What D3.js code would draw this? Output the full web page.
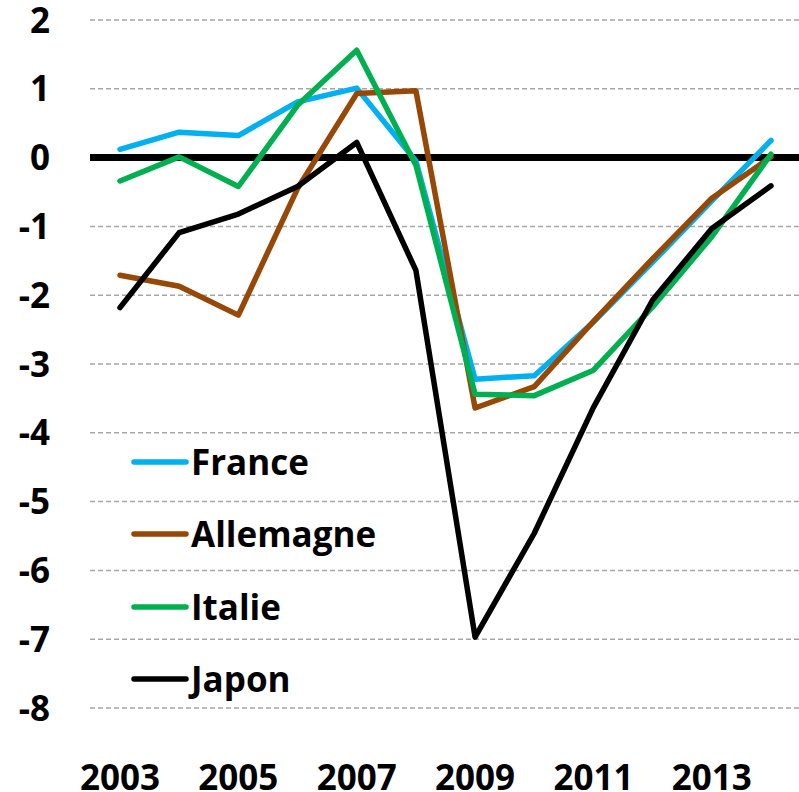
<!DOCTYPE html>
<html>
<head>
<meta charset="utf-8">
<script src="https://cdn.jsdelivr.net/npm/d3@7"></script>
<style>
  body { margin: 0; background: #fff; }
  svg text { font-family: "Open Sans", sans-serif; font-weight: bold; fill: #000; }
</style>
</head>
<body>
<svg id="chart" width="799" height="792"></svg>
<script>
// Years on the x axis
const years = [2003, 2004, 2005, 2006, 2007, 2008, 2009, 2010, 2011, 2012, 2013, 2014];

// Series values
const france    = [0.12, 0.37, 0.32, 0.81, 1.01, -0.05, -3.22, -3.17, -2.39, -1.52, -0.63, 0.25];
const allemagne = [-1.71, -1.87, -2.29, -0.45, 0.93, 0.97, -3.64, -3.33, -2.38, -1.47, -0.59, 0.01];
const italie    = [-0.34, 0.01, -0.42, 0.76, 1.56, -0.11, -3.44, -3.46, -3.09, -2.17, -1.15, 0.05];
const japon     = [-2.18, -1.09, -0.82, -0.42, 0.22, -1.64, -6.97, -5.46, -3.63, -2.07, -1.03, -0.41];

const seriesNames = ['France', 'Allemagne', 'Italie', 'Japon'];
const yTicks = [2, 1, 0, -1, -2, -3, -4, -5, -6, -7, -8];
const xTickYears = [2003, 2005, 2007, 2009, 2011, 2013];

const colors = ['#00B0F0', '#974706', '#00B050', '#000000'];
const allSeries = [france, allemagne, italie, japon];

const svg = d3.select('#chart');

const x = d3.scaleLinear().domain([2003, 2014]).range([120, 771]);
const y = d3.scaleLinear().domain([-8, 2]).range([708, 20]);

// dashed gridlines
svg.append('g')
  .selectAll('line')
  .data(yTicks.filter(d => d !== 0))
  .enter()
  .append('line')
  .attr('x1', 90)
  .attr('x2', 799)
  .attr('y1', d => y(d))
  .attr('y2', d => y(d))
  .attr('stroke', '#A6A6A6')
  .attr('stroke-width', 1.5)
  .attr('stroke-dasharray', '5,3');

// zero line
svg.append('line')
  .attr('x1', 90)
  .attr('x2', 799)
  .attr('y1', y(0))
  .attr('y2', y(0))
  .attr('stroke', '#000')
  .attr('stroke-width', 7);

// y tick labels
svg.append('g')
  .selectAll('text')
  .data(yTicks)
  .enter()
  .append('text')
  .attr('x', 50)
  .attr('y', d => y(d))
  .attr('dy', '0.36em')
  .attr('text-anchor', 'end')
  .style('font-size', '35px')
  .text(d => d);

// x tick labels
svg.append('g')
  .selectAll('text')
  .data(xTickYears)
  .enter()
  .append('text')
  .attr('x', d => x(d))
  .attr('y', 777)
  .attr('dy', '0.36em')
  .attr('text-anchor', 'middle')
  .style('font-size', '35px')
  .text(d => d);

// series lines
const line = d3.line()
  .x((d, i) => x(years[i]))
  .y(d => y(d));

svg.append('g')
  .selectAll('path')
  .data(allSeries)
  .enter()
  .append('path')
  .attr('d', d => line(d))
  .attr('fill', 'none')
  .attr('stroke', (d, i) => colors[i])
  .attr('stroke-width', 5.5)
  .attr('stroke-linejoin', 'round')
  .attr('stroke-linecap', 'round');

// legend
const legendY = [462, 534, 607, 679];
const legend = svg.append('g')
  .selectAll('g')
  .data(seriesNames)
  .enter()
  .append('g')
  .attr('transform', (d, i) => `translate(0,${legendY[i]})`);

legend.append('line')
  .attr('x1', 134)
  .attr('x2', 186)
  .attr('stroke', (d, i) => colors[i])
  .attr('stroke-width', 5.5)
  .attr('stroke-linecap', 'round');

legend.append('text')
  .attr('x', 191)
  .attr('dy', '0.36em')
  .style('font-size', '35px')
  .text(d => d);
</script>
</body>
</html>
